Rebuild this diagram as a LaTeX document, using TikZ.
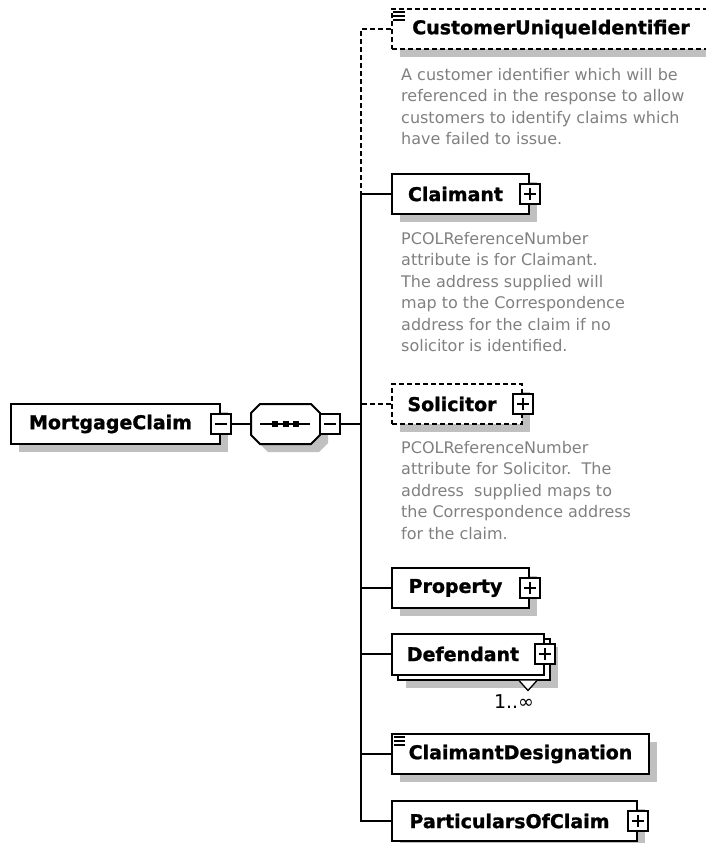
\documentclass[tikz,border=0pt]{standalone}
\usepackage{fontspec}
\setmainfont{DejaVu Sans}
\newfontfamily\labfamily{DejaVu Sans Bold}[FakeBold=1.2]
\usetikzlibrary{shadows,calc}
\definecolor{shadowgray}{RGB}{192,192,192}
\definecolor{descgray}{RGB}{128,128,128}
\newcommand\labfont{\labfamily\fontsize{19}{23}\selectfont}
\newcommand\descfont{\fontsize{16}{21.5}\selectfont}
\newcommand\multfont{\fontsize{19}{22}\selectfont}
\begin{document}
\begin{tikzpicture}[x=1pt,y=-1pt,
  boxshadow/.style={drop shadow={shadow xshift=8pt,shadow yshift=-8pt,opacity=1,fill=shadowgray}},
  elembase/.style={draw,line width=2pt,fill=white,rectangle,minimum height=40pt,inner sep=0pt,anchor=west,font=\labfont},
  elem/.style={elembase,boxshadow},
  optional/.style={dash pattern=on 5pt off 3pt},
  xbox/.style={draw,fill=white,line width=1.6pt,rectangle,minimum size=20pt,inner sep=0pt},
  minusbox/.style={xbox,path picture={\draw[line width=1.6pt] ([xshift=4pt]path picture bounding box.west) -- ([xshift=-4pt]path picture bounding box.east);}},
  plusbox/.style={xbox,path picture={\draw[line width=1.6pt] ([xshift=4pt]path picture bounding box.west) -- ([xshift=-4pt]path picture bounding box.east) ([yshift=-4pt]path picture bounding box.north) -- ([yshift=4pt]path picture bounding box.south);}},
  link/.style={line width=1.9pt},
  desc/.style={anchor=north west,inner sep=0pt,align=left,font=\descfont,text=descgray},
  simpleicon/.style={line width=1.5pt},
]
\useasboundingbox (0,0) rectangle (706,843);
\clip (0,0) rectangle (706,843);

% root element
\node[elem,minimum width=209pt] (mc) at (10,424) {MortgageClaim\hspace*{10pt}};
\node[minusbox] (mcx) at (mc.east) {};

% sequence compositor
\node[minimum width=69pt,minimum height=40pt,inner sep=0pt] (seq) at (285.5,424) {};
\fill[shadowgray] (268,412) -- (319,412) -- (328,421) -- (328,443) -- (319,452) -- (268,452) -- (259,443) -- (259,421) -- cycle;
\draw[line width=2pt,fill=white] (260,404) -- (311,404) -- (320,413) -- (320,435) -- (311,444) -- (260,444) -- (251,435) -- (251,413) -- cycle;
\draw[line width=1.6pt] (260,424) -- (310,424);
\fill (272,421) rectangle (278,427);
\fill (282.5,421) rectangle (288.5,427);
\fill (293,421) rectangle (299,427);
\node[minusbox] (seqx) at (330,424) {};
\coordinate (bus) at (361,424);

% child elements
\node[elem,optional,minimum width=318pt] (cui) at (391,29) {CustomerUniqueIdentifier};
\draw[simpleicon] ($(cui.north west)+(2,4)$) -- +(12,0) ($(cui.north west)+(2,8)$) -- +(12,0) ($(cui.north west)+(2,12)$) -- +(12,0);
\node[desc] (cuidoc) at (401,68) {A customer identifier which will be\\referenced in the response to allow\\customers to identify claims which\\have failed to issue.};

\node[elem,minimum width=137pt] (claimant) at (391,194) {Claimant\hspace*{10pt}};
\node[plusbox] (claimantx) at (claimant.east) {};
\node[desc] (claimantdoc) at (401,232) {PCOLReferenceNumber\\attribute is for Claimant.\\The address supplied will\\map to the Correspondence\\address for the claim if no\\solicitor is identified.};

\node[elem,optional,minimum width=130pt] (solicitor) at (391,404) {Solicitor\hspace*{10pt}};
\node[plusbox] (solicitorx) at (solicitor.east) {};
\node[desc] (solicitordoc) at (401,441) {PCOLReferenceNumber\\attribute for Solicitor.\ \ The\\address\ \ supplied maps to\\the Correspondence address\\for the claim.};

\node[elem,minimum width=137pt] (property) at (391,588) {Property\hspace*{10pt}};
\node[plusbox] (propertyx) at (property.east) {};

\node[elem,minimum width=152pt,minimum height=41pt] (defback) at (397,659) {};
\draw[line width=1.3pt,fill=white] ($(defback.south east)+(-32,0)$) -- ($(defback.south east)+(-23,10)$) -- ($(defback.south east)+(-14,0)$);
\node[elembase,minimum width=152pt,minimum height=41pt] (defendant) at (391,654) {Defendant\hspace*{10pt}};
\node[plusbox] (defendantx) at (defendant.east) {};
\node[font=\multfont,inner sep=0pt] (defmult) at (514,702) {1..∞};

\node[elem,minimum width=257pt] (designation) at (391,754) {ClaimantDesignation};
\draw[simpleicon] ($(designation.north west)+(3,4)$) -- +(11,0) ($(designation.north west)+(3,8)$) -- +(11,0) ($(designation.north west)+(3,12)$) -- +(11,0);

\node[elem,minimum width=245pt] (particulars) at (391,821) {ParticularsOfClaim\hspace*{10pt}};
\node[plusbox] (particularsx) at (particulars.east) {};

% connectors
\draw[link] (mcx.east) -- (seq.west);
\draw[link] (seqx.east) -- (bus);
\draw[link] (claimant.west) -| (bus);
\draw[link] (property.west) -| (bus);
\draw[link] (defendant.west) -| (bus);
\draw[link] (designation.west) -| (bus);
\draw[link] (particulars.west) -| (bus);
\draw[link,optional] (cui.west) -| (bus);
\draw[link,optional] (solicitor.west) -| (bus);
\end{tikzpicture}
\end{document}
